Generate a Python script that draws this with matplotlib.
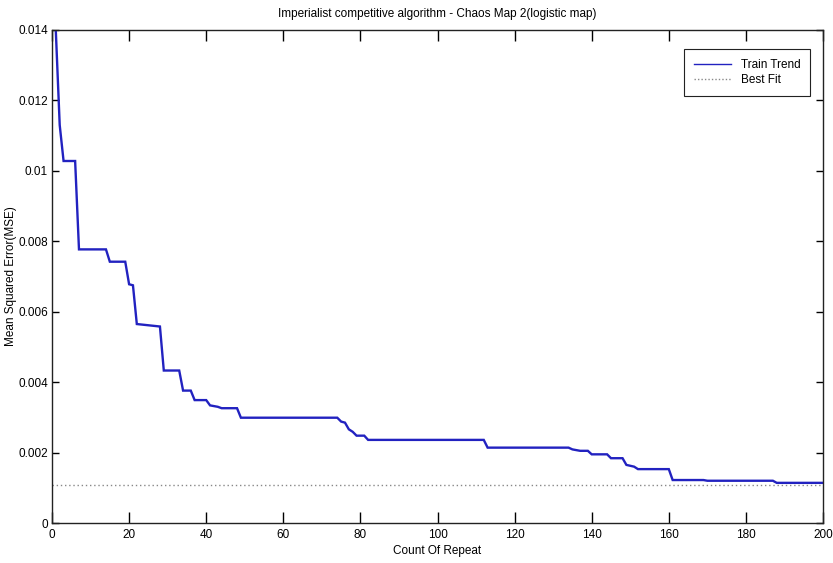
import matplotlib
matplotlib.use("Agg")
import matplotlib.pyplot as plt
from matplotlib.lines import Line2D

# Train trend vertices (iteration, MSE)
iters = [1, 2, 3, 6, 7, 14, 15, 19, 20, 21, 22, 28, 29, 33, 34, 36, 37, 40, 41, 43, 44, 48, 49,
         74, 75, 76, 77, 78, 79, 81, 82, 112, 113, 134, 135, 136, 137, 139, 140, 144, 145, 148,
         149, 151, 152, 160, 161, 169, 170, 187, 188, 200]
mse = [0.01395, 0.0113, 0.01028, 0.01028, 0.00777, 0.00777, 0.00742, 0.00742, 0.00678, 0.00675,
       0.00565, 0.00558, 0.00433, 0.00433, 0.00376, 0.00376, 0.00349, 0.00349, 0.00334, 0.00330,
       0.00326, 0.00326, 0.00299, 0.00299, 0.00288, 0.00285, 0.00266, 0.00259, 0.00248, 0.00248,
       0.00236, 0.00236, 0.00214, 0.00214, 0.00209, 0.00207, 0.00205, 0.00205, 0.00195, 0.00195,
       0.00184, 0.00184, 0.00165, 0.00160, 0.00153, 0.00153, 0.00122, 0.00122, 0.00120, 0.00120,
       0.00114, 0.00114]
best_fit = 0.00108

x_ticks = [0, 20, 40, 60, 80, 100, 120, 140, 160, 180, 200]
y_ticks = [0, 0.002, 0.004, 0.006, 0.008, 0.01, 0.012, 0.014]
y_tick_labels = ["0", "0.002", "0.004", "0.006", "0.008", "0.01", "0.012", "0.014"]

plt.rcParams['font.family'] = ['Liberation Sans', 'DejaVu Sans']

fig = plt.figure(figsize=(8.33, 5.63), dpi=100)
ax = fig.add_axes([52/833, 40/563, 771/833, 493/563])

ax.plot(iters, mse, color='#2222c0', lw=1.7, solid_joinstyle='miter')
ax.axhline(best_fit, color='#888888', lw=1, ls=(0, (1, 2)))

ax.set_xlim(0, 200)
ax.set_ylim(0, 0.014)
ax.set_xticks(x_ticks)
ax.set_xticklabels([str(t) for t in x_ticks])
ax.set_yticks(y_ticks)
ax.set_yticklabels(y_tick_labels)
ax.tick_params(axis='x', direction='in', length=8, width=1, labelsize=8.5, top=True, pad=4)
ax.tick_params(axis='y', direction='in', length=5, width=1, labelsize=8.5, right=True, pad=3)
for s in ax.spines.values():
    s.set_linewidth(1)
    s.set_color('#222222')

ax.set_title("Imperialist competitive algorithm - Chaos Map 2(logistic map)", fontsize=8.5, pad=9)
ax.set_xlabel("Count Of Repeat", fontsize=8.5, labelpad=3)
ax.set_ylabel("Mean Squared Error(MSE)", fontsize=8.5)
ax.yaxis.set_label_coords(-0.045, 0.5)

handles = [Line2D([], [], color='#2222c0', lw=1),
           Line2D([], [], color='#888888', lw=1, ls=(0, (1, 1.5)))]
leg = ax.legend(handles, ["Train Trend", "Best Fit"], loc='upper right',
                bbox_to_anchor=(0.983, 0.961), borderaxespad=0, fancybox=False,
                edgecolor='#222222', framealpha=1, fontsize=8.5, handlelength=3.2,
                borderpad=0.8, labelspacing=0.3)
leg.get_frame().set_linewidth(0.8)

fig.savefig("out.png", dpi=100)
